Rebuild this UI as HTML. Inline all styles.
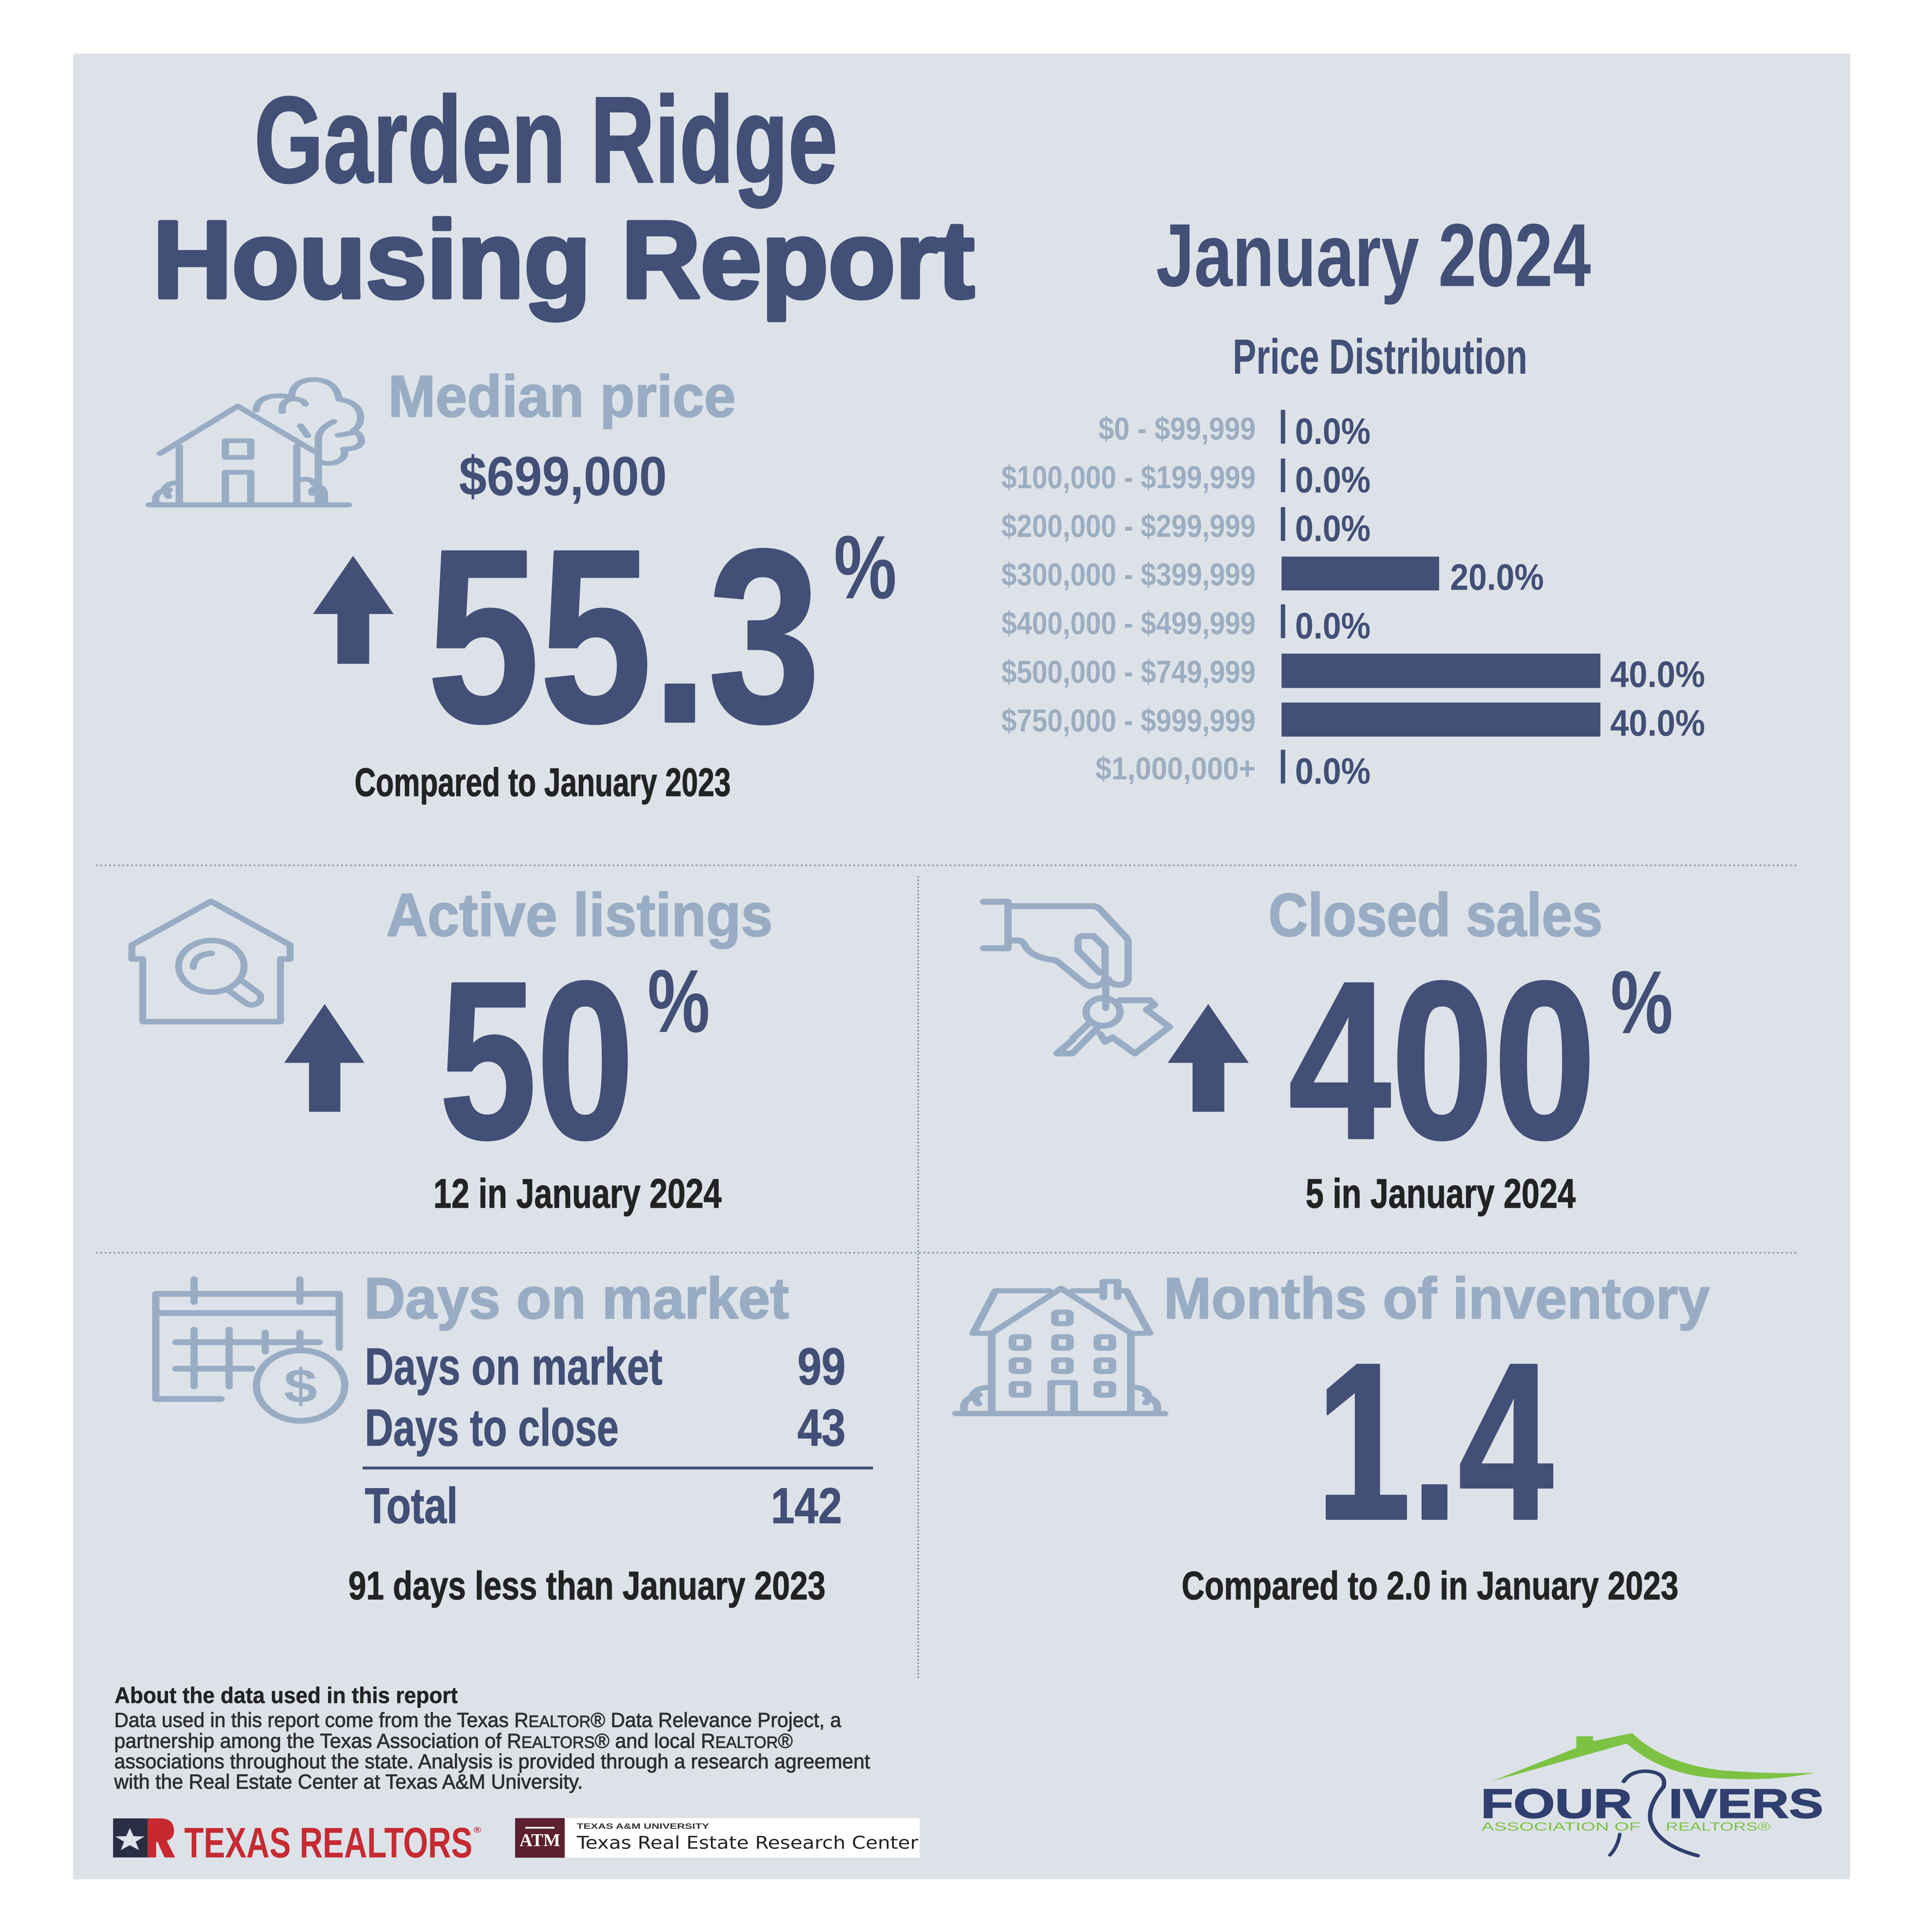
<!DOCTYPE html>
<html>
<head>
<meta charset="utf-8">
<style>
html,body{margin:0;padding:0;background:#ffffff;width:100%;height:100%;overflow:hidden;}
svg{display:block;width:100vw;height:100vh;}
text{font-family:"Liberation Sans Narrow","Liberation Sans",sans-serif;font-weight:bold;}
.n{fill:#424f76;}
.ns{fill:#424f76;stroke:#424f76;stroke-linejoin:round;}
.l{fill:#98adc4;}
.ls{fill:#98adc4;stroke:#98adc4;stroke-linejoin:round;}
.p{fill:#9cadc0;}
.d{fill:#232323;}
.ds{fill:#232323;stroke:#232323;stroke-linejoin:round;}
.ic{fill:none;stroke:#98adc4;stroke-linecap:round;stroke-linejoin:round;}
.dot{fill:none;stroke:#8593a8;stroke-width:5;stroke-dasharray:5 7;}
</style>
</head>
<body>
<svg viewBox="0 0 5296 6633" preserveAspectRatio="none" xmlns="http://www.w3.org/2000/svg">
<rect x="0" y="0" width="5296" height="6633" fill="#ffffff"/>
<rect x="200" y="184" width="4872" height="6268" fill="#dde2e9"/>

<!-- Header -->
<text class="ns" x="697" y="625" font-size="420" textLength="1599" lengthAdjust="spacingAndGlyphs" style="stroke-width:6">Garden Ridge</text>
<text class="ns" x="419" y="1021" font-size="376" textLength="2252" lengthAdjust="spacingAndGlyphs" style="stroke-width:14">Housing Report</text>
<text class="n" x="3169" y="982" font-size="307" textLength="1192" lengthAdjust="spacingAndGlyphs">January 2024</text>
<text class="n" x="3379" y="1283" font-size="170" textLength="808" lengthAdjust="spacingAndGlyphs">Price Distribution</text>

<!-- Price distribution -->
<g font-size="110">
<text class="p" x="3011" y="1509" textLength="431" lengthAdjust="spacingAndGlyphs">$0 - $99,999</text>
<text class="p" x="2745" y="1676" textLength="697" lengthAdjust="spacingAndGlyphs">$100,000 - $199,999</text>
<text class="p" x="2745" y="1843" textLength="697" lengthAdjust="spacingAndGlyphs">$200,000 - $299,999</text>
<text class="p" x="2745" y="2010" textLength="697" lengthAdjust="spacingAndGlyphs">$300,000 - $399,999</text>
<text class="p" x="2745" y="2177" textLength="697" lengthAdjust="spacingAndGlyphs">$400,000 - $499,999</text>
<text class="p" x="2745" y="2344" textLength="697" lengthAdjust="spacingAndGlyphs">$500,000 - $749,999</text>
<text class="p" x="2745" y="2511" textLength="697" lengthAdjust="spacingAndGlyphs">$750,000 - $999,999</text>
<text class="p" x="3003" y="2676" textLength="439" lengthAdjust="spacingAndGlyphs">$1,000,000+</text>
</g>
<g class="n">
<rect x="3511" y="1407" width="12" height="116"/>
<rect x="3511" y="1574" width="12" height="116"/>
<rect x="3511" y="1741" width="12" height="116"/>
<rect x="3513" y="1911" width="432" height="116"/>
<rect x="3511" y="2075" width="12" height="116"/>
<rect x="3513" y="2244" width="874" height="118"/>
<rect x="3513" y="2412" width="874" height="117"/>
<rect x="3511" y="2574" width="12" height="116"/>
</g>
<g font-size="127">
<text class="n" x="3550" y="1524" textLength="207" lengthAdjust="spacingAndGlyphs">0.0%</text>
<text class="n" x="3550" y="1691" textLength="207" lengthAdjust="spacingAndGlyphs">0.0%</text>
<text class="n" x="3550" y="1858" textLength="207" lengthAdjust="spacingAndGlyphs">0.0%</text>
<text class="n" x="3975" y="2025" textLength="257" lengthAdjust="spacingAndGlyphs">20.0%</text>
<text class="n" x="3550" y="2192" textLength="207" lengthAdjust="spacingAndGlyphs">0.0%</text>
<text class="n" x="4414" y="2359" textLength="260" lengthAdjust="spacingAndGlyphs">40.0%</text>
<text class="n" x="4414" y="2526" textLength="260" lengthAdjust="spacingAndGlyphs">40.0%</text>
<text class="n" x="3550" y="2691" textLength="207" lengthAdjust="spacingAndGlyphs">0.0%</text>
</g>

<!-- Median price -->
<g class="ic" transform="translate(369.5,1260.4) scale(0.421,0.339)" style="stroke-width:48">
<path d="M165,875 L670,395 L1170,855"/>
<path d="M290,805 L290,1390"/>
<path d="M1055,800 L1055,1390"/>
<rect x="590" y="745" width="165" height="170"/>
<path d="M590,1390 L590,1065 L755,1065 L755,1390"/>
<path d="M95,1395 L1390,1395" style="stroke-width:52"/>
<path d="M1195,1390 L1195,720 Q1200,620 1295,550"/>
<path d="M790,435 Q800,290 940,290 Q990,290 1020,305 Q1025,130 1170,125 Q1310,135 1330,325 Q1460,355 1470,500 Q1470,600 1425,640 Q1480,690 1475,760 Q1460,830 1360,830 Q1380,900 1330,950 Q1280,990 1220,965"/>
<path d="M960,450 Q950,330 1040,320 Q1100,330 1110,375"/>
<path d="M1080,595 L1125,695"/>
<path d="M1325,690 L1420,665"/>
<path d="M140,1390 Q120,1280 190,1250 Q200,1180 270,1170"/>
<path d="M220,1310 Q195,1270 225,1245"/>
<path d="M1080,1140 Q1150,1120 1165,1180 Q1240,1220 1235,1300 L1235,1390"/>
<path d="M1155,1280 Q1145,1240 1170,1230"/>
</g>
<text class="ls" x="1064" y="1430" font-size="202" textLength="953" lengthAdjust="spacingAndGlyphs" style="stroke-width:4">Median price</text>
<text class="n" x="1258" y="1700" font-size="190" textLength="570" lengthAdjust="spacingAndGlyphs">$699,000</text>
<polygon class="n" points="968,1908 1079,2108 1012,2108 1012,2279 925,2279 925,2108 858,2108"/>
<text class="ns" x="1171" y="2477" font-size="848" textLength="1078" lengthAdjust="spacingAndGlyphs" style="stroke-width:8">55.3</text>
<text class="n" x="2286" y="2054" font-size="309" textLength="172" lengthAdjust="spacingAndGlyphs">%</text>
<text class="ds" x="972" y="2733" font-size="137" textLength="1031" lengthAdjust="spacingAndGlyphs" style="stroke-width:2">Compared to January 2023</text>

<!-- Dotted separators -->
<path class="dot" d="M263,2971 L4929,2971"/>
<path class="dot" d="M263,4301 L4929,4301"/>
<path class="dot" d="M2517,3008 L2517,5766"/>

<!-- Active listings -->
<g class="ic" transform="translate(332.5,3065.8) scale(0.33,0.326)" style="stroke-width:58">
<path d="M88,695 L88,548 L745,88 L1402,548 L1402,695 L1322,695 L1322,1355 L178,1355 L178,695 Z"/>
<circle cx="748" cy="772" r="272"/>
<path d="M598,782 Q600,650 750,635"/>
<path d="M988,912 L1138,1052 A75,75 0 0 1 1032,1158 L882,1018"/>
</g>
<text class="ls" x="1059" y="3213" font-size="209" textLength="1059" lengthAdjust="spacingAndGlyphs" style="stroke-width:4">Active listings</text>
<polygon class="n" points="890,3447 999,3649 933,3649 933,3817 847,3817 847,3649 779,3649"/>
<text class="ns" x="1204" y="3907" font-size="771" textLength="534" lengthAdjust="spacingAndGlyphs" style="stroke-width:8">50</text>
<text class="n" x="1775" y="3543" font-size="307" textLength="171" lengthAdjust="spacingAndGlyphs">%</text>
<text class="ds" x="1188" y="4146" font-size="141" textLength="790" lengthAdjust="spacingAndGlyphs" style="stroke-width:2">12 in January 2024</text>

<!-- Closed sales -->
<g class="ic" transform="translate(2659,3058) scale(0.372,0.38)" style="stroke-width:54">
<path d="M100,100 L280,100 L280,520 L100,520"/>
<path d="M300,140 L900,140 Q935,140 955,165 L1150,420 Q1165,440 1165,470 L1165,790 Q1165,850 1100,850 Q1040,850 1020,800"/>
<path d="M300,450 L360,450 Q390,455 405,495 Q450,600 610,625 Q640,630 660,655 L845,840 Q880,870 930,860 Q990,845 995,790 L995,510 L910,410 L830,410 Q795,415 795,455 L795,540 L955,740"/>
<path d="M1000,830 L1000,1060"/>
<circle cx="980" cy="1095" r="125"/>
<path d="M880,1195 L780,1310 L760,1330 L760,1345 L640,1470 L755,1470 L935,1245"/>
<path d="M1105,990 L1325,990 L1360,1030 L1300,1075 L1470,1230 L1215,1470 L1050,1325 L995,1365 L960,1295"/>
</g>
<text class="ls" x="3477" y="3213" font-size="209" textLength="916" lengthAdjust="spacingAndGlyphs" style="stroke-width:4">Closed sales</text>
<polygon class="n" points="3312,3447 3423,3649 3356,3649 3356,3817 3269,3817 3269,3649 3201,3649"/>
<text class="ns" x="3532" y="3907" font-size="771" textLength="843" lengthAdjust="spacingAndGlyphs" style="stroke-width:8">400</text>
<text class="n" x="4415" y="3547" font-size="307" textLength="171" lengthAdjust="spacingAndGlyphs">%</text>
<text class="ds" x="3579" y="4146" font-size="141" textLength="740" lengthAdjust="spacingAndGlyphs" style="stroke-width:2">5 in January 2024</text>

<!-- Days on market -->
<g class="ic" style="stroke-width:20">
<path d="M606,4803 L427,4803 L427,4442 L930,4442 L930,4628"/>
<path d="M427,4508 L930,4508"/>
<path d="M532,4392 L532,4470 M822,4392 L822,4470"/>
<path d="M482,4608 L875,4608 M482,4699 L690,4699"/>
<path d="M532,4565 L532,4760 M628,4565 L628,4760 M727,4575 L727,4640 M822,4575 L822,4622"/>
<circle cx="824" cy="4757" r="121"/>
</g>
<text class="l" x="824" y="4815" font-size="165" text-anchor="middle">$</text>
<text class="ls" x="998" y="4526" font-size="200" textLength="1165" lengthAdjust="spacingAndGlyphs" style="stroke-width:4">Days on market</text>
<text class="ns" x="1000" y="4753" font-size="179" textLength="816" lengthAdjust="spacingAndGlyphs" style="stroke-width:2">Days on market</text>
<text class="ns" x="2186" y="4753" font-size="179" textLength="132" lengthAdjust="spacingAndGlyphs" style="stroke-width:2">99</text>
<text class="ns" x="1000" y="4963" font-size="179" textLength="696" lengthAdjust="spacingAndGlyphs" style="stroke-width:2">Days to close</text>
<text class="ns" x="2186" y="4963" font-size="179" textLength="132" lengthAdjust="spacingAndGlyphs" style="stroke-width:2">43</text>
<rect class="n" x="994" y="5035" width="1399" height="10"/>
<text class="ns" x="1000" y="5229" font-size="173" textLength="255" lengthAdjust="spacingAndGlyphs" style="stroke-width:2">Total</text>
<text class="ns" x="2113" y="5229" font-size="173" textLength="195" lengthAdjust="spacingAndGlyphs" style="stroke-width:2">142</text>
<text class="ds" x="955" y="5491" font-size="137" textLength="1308" lengthAdjust="spacingAndGlyphs" style="stroke-width:2">91 days less than January 2023</text>

<!-- Months of inventory -->
<g class="ic" transform="translate(2590,4370) scale(0.408,0.332)" style="stroke-width:52">
<path d="M75,1455 L1475,1455" style="stroke-width:56"/>
<path d="M310,625 L190,625 L340,185 L700,185"/>
<path d="M860,185 L1055,185"/>
<path d="M1065,255 L1065,90 L1160,90 L1160,255"/>
<path d="M1170,185 L1220,185 L1375,625 L1250,625"/>
<path d="M315,625 L780,160 L1250,625"/>
<path d="M315,625 L315,1450 M1250,625 L1250,1450"/>
<rect x="740" y="405" width="100" height="120" rx="18"/>
<rect x="455" y="660" width="100" height="120" rx="18"/>
<rect x="740" y="660" width="100" height="120" rx="18"/>
<rect x="1025" y="660" width="100" height="120" rx="18"/>
<rect x="455" y="900" width="100" height="120" rx="18"/>
<rect x="740" y="900" width="100" height="120" rx="18"/>
<rect x="1025" y="900" width="100" height="120" rx="18"/>
<rect x="455" y="1145" width="100" height="120" rx="18"/>
<rect x="1025" y="1145" width="100" height="120" rx="18"/>
<path d="M715,1450 L715,1135 L868,1135 L868,1450"/>
<path d="M130,1445 Q115,1320 180,1290 Q200,1190 285,1185"/>
<path d="M225,1355 Q190,1290 230,1260"/>
<path d="M1280,1185 Q1360,1190 1370,1290 Q1440,1320 1425,1445"/>
<path d="M1350,1345 Q1390,1290 1350,1265"/>
</g>
<text class="ls" x="3190" y="4526" font-size="200" textLength="1497" lengthAdjust="spacingAndGlyphs" style="stroke-width:4">Months of inventory</text>
<text class="ns" x="3607" y="5214" font-size="767" textLength="651" lengthAdjust="spacingAndGlyphs" style="stroke-width:8">1.4</text>
<text class="ds" x="3239" y="5491" font-size="137" textLength="1362" lengthAdjust="spacingAndGlyphs" style="stroke-width:2">Compared to 2.0 in January 2023</text>

<!-- Footer text -->
<text class="ds" x="314" y="5847" font-size="77" textLength="941" lengthAdjust="spacingAndGlyphs" style="stroke-width:1">About the data used in this report</text>
<g style="fill:#2e2e2e;stroke:#2e2e2e;stroke-width:1.5" font-size="70">
<text x="313" y="5929" textLength="1993" lengthAdjust="spacingAndGlyphs" style="font-weight:normal">Data used in this report come from the Texas R<tspan font-size="56">EALTOR</tspan>® Data Relevance Project, a</text>
<text x="313" y="6001" textLength="1860" lengthAdjust="spacingAndGlyphs" style="font-weight:normal">partnership among the Texas Association of R<tspan font-size="56">EALTORS</tspan>® and local R<tspan font-size="56">EALTOR</tspan>®</text>
<text x="313" y="6071" textLength="2072" lengthAdjust="spacingAndGlyphs" style="font-weight:normal">associations throughout the state. Analysis is provided through a research agreement</text>
<text x="313" y="6141" textLength="1285" lengthAdjust="spacingAndGlyphs" style="font-weight:normal">with the Real Estate Center at Texas A&amp;M University.</text>
</g>

<!-- Texas Realtors logo -->
<rect x="310" y="6243" width="95" height="134" fill="#2a2e45"/>
<polygon fill="#dde2e9" points="356,6276 366,6304 396,6305 372,6323 381,6352 356,6335 331,6352 340,6323 316,6305 346,6304"/>
<path fill="#c8282f" d="M405,6243 L440,6243 Q477,6243 477,6287 Q477,6312 457,6320 L480,6377 L451,6377 L432,6324 L428,6324 L428,6377 L405,6377 Z"/>
<text x="505" y="6377" font-size="147" textLength="790" lengthAdjust="spacingAndGlyphs" fill="#c62a32">TEXAS REALTORS</text>
<text x="1298" y="6292" font-size="28" fill="#c62a32">®</text>

<!-- Texas A&M logo -->
<rect x="1412" y="6242" width="136" height="136" fill="#5c1f2f"/>
<rect x="1548" y="6242" width="973" height="136" fill="#ffffff"/>
<rect x="1440" y="6272" width="80" height="6" fill="#ffffff"/>
<text x="1424" y="6338" font-size="62" textLength="112" lengthAdjust="spacingAndGlyphs" fill="#ffffff" style="font-family:'Liberation Serif',serif;">ATM</text>
<text x="1581" y="6279" font-size="27" textLength="363" lengthAdjust="spacingAndGlyphs" fill="#333333">TEXAS A&amp;M UNIVERSITY</text>
<text x="1581" y="6347" font-size="60" textLength="936" lengthAdjust="spacingAndGlyphs" fill="#222222" style="font-family:'DejaVu Sans','Liberation Sans',sans-serif;font-weight:normal">Texas Real Estate Research Center</text>

<!-- Four Rivers logo -->
<path fill="#7dc243" d="M4088,6116 L4321,6001 L4321,5961 L4367,5961 L4367,5978 L4474,5950 Q4560,6055 4720,6078 Q4880,6092 4975,6086 Q4860,6116 4720,6106 Q4560,6098 4459,5986 Z"/>
<text x="4059" y="6241" font-size="142" textLength="415" lengthAdjust="spacingAndGlyphs" fill="#2f3f6f" style="font-family:'Liberation Sans',sans-serif;stroke:#2f3f6f;stroke-width:3">FOUR</text>
<text x="4574" y="6241" font-size="142" textLength="424" lengthAdjust="spacingAndGlyphs" fill="#2f3f6f" style="font-family:'Liberation Sans',sans-serif;stroke:#2f3f6f;stroke-width:3">IVERS</text>
<text x="4061" y="6285" font-size="40" textLength="436" lengthAdjust="spacingAndGlyphs" fill="#7cc142" style="font-family:'Liberation Sans',sans-serif;font-weight:normal">ASSOCIATION OF</text>
<text x="4566" y="6285" font-size="40" textLength="287" lengthAdjust="spacingAndGlyphs" fill="#7cc142" style="font-family:'Liberation Sans',sans-serif;font-weight:normal">REALTORS®</text>
<path fill="none" stroke="#2f3f6f" stroke-width="12" stroke-linecap="round" d="M4451,6116 Q4470,6080 4514,6081 Q4570,6086 4560,6135 Q4515,6200 4525,6255 Q4545,6335 4654,6371"/>
<path fill="none" stroke="#2f3f6f" stroke-width="10" stroke-linecap="round" d="M4440,6297 Q4435,6340 4413,6369"/>
</svg>
</body>
</html>
